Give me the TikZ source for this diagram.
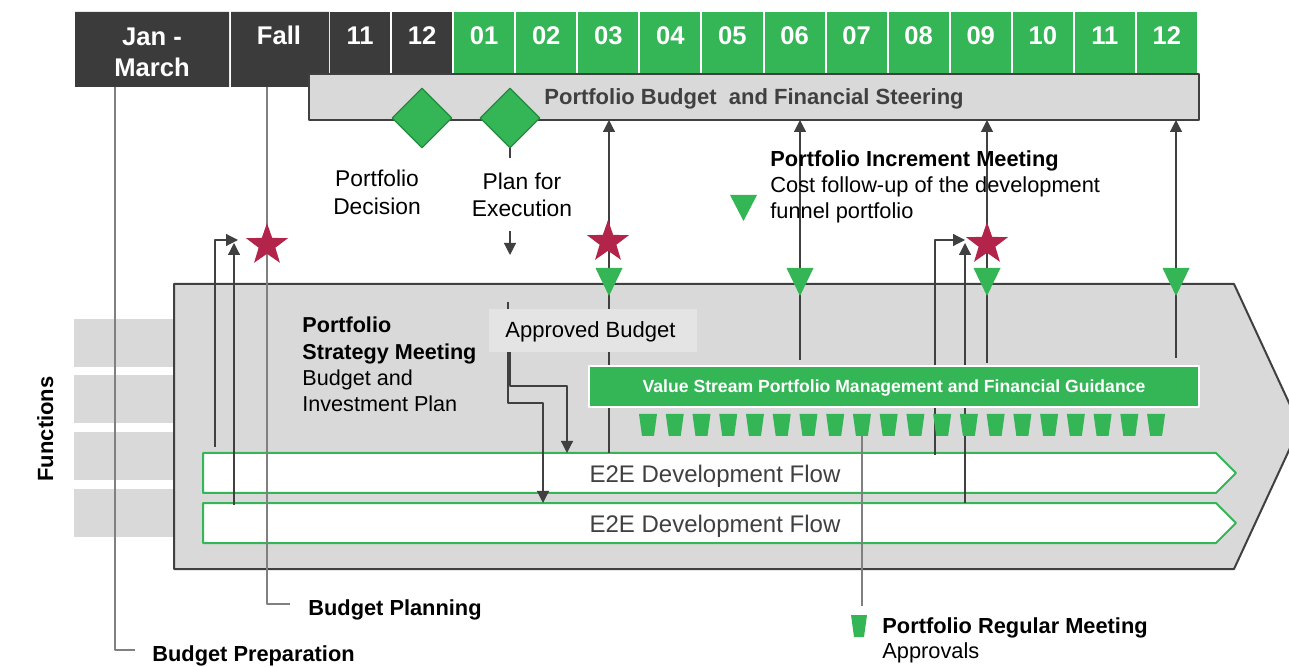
\documentclass[tikz,border=0pt]{standalone}
\usepackage{fontspec}
\setmainfont{Liberation Sans}
\usetikzlibrary{shapes.geometric,arrows.meta}
\definecolor{pgreen}{HTML}{34B556}
\definecolor{pdark}{HTML}{3B3B3B}
\definecolor{pgray}{HTML}{D9D9D9}
\definecolor{plight}{HTML}{E4E4E4}
\definecolor{pline}{HTML}{404040}
\definecolor{pthin}{HTML}{808080}
\definecolor{pstar}{HTML}{B3244A}
\begin{document}
\begin{tikzpicture}[x=0.5pt,y=-0.5pt,>={Triangle[length=6pt,width=6pt]},line join=round,
	hdr/.style={text=white,font=\fontsize{12.8}{15.5}\selectfont\bfseries,anchor=base,align=center,inner sep=0},
	txt/.style={font=\fontsize{11}{13.2}\selectfont,anchor=base west,align=left,inner sep=0},
	gate/.style={diamond,fill=pgreen,draw=pgreen!75!black,line width=.6pt,minimum size=30pt,inner sep=0},
	milestone/.style={star,star points=5,star point ratio=2.5,fill=pstar,minimum size=22pt,inner sep=0},
	feed/.style={pline,line width=.6pt,->},
	lead/.style={pthin,line width=.6pt}]
	\useasboundingbox (0,0) rectangle (1289,667);
	% header
	\fill[pdark] (75,12) rectangle (229,87) (231,12) rectangle (329,87);
	\foreach \m [count=\i from 0] in {11,12,01,02,03,04,05,06,07,08,09,10,11,12}{
		\ifnum\i<2 \def\c{pdark}\else\def\c{pgreen}\fi
		\fill[\c] ({329+62.07*\i+1},12) rectangle ({329+62.07*(\i+1)-1},74);
		\node[hdr] at ({329+62.07*(\i+.5)},45) {\m};
	}
	\node[hdr] (jan) at (152,77) {Jan -\\March};
	\node[hdr] (fall) at (279,45) {Fall};
	% steering bar
	\draw[pline,fill=pgray,line width=1pt] (309,74) rectangle (1199,120);
	\node[anchor=base,inner sep=0,text=pline,font=\fontsize{11}{13}\selectfont\bfseries] (steer) at (754,105) {Portfolio Budget\ \ and Financial Steering};
	\node[gate] (dec) at (422,118) {};
	\node[gate] (plan) at (510,118) {};
	% functions
	\foreach \y in {319,375,432,489}
		\fill[pgray] (74,\y) rectangle (174,\y+48);
	\node[rotate=90,anchor=base,inner sep=0,font=\fontsize{11}{13}\selectfont\bfseries] (fun) at (53,429) {Functions};
	% value stream arrow
	\draw[pline,fill=pgray,line width=1pt] (174,284) -- (1234,284) -- (1300,426.5) -- (1234,569) -- (174,569) -- cycle;
	\foreach \y in {453,503}
		\draw[pgreen,fill=white,line width=1pt] (203,\y) -- (1216,\y) -- (1236,\y+20) -- (1216,\y+40) -- (203,\y+40) -- cycle;
	\node[anchor=base,inner sep=0,text=pline,font=\fontsize{12}{14}\selectfont] (flow1) at (715,482) {E2E Development Flow};
	\node[anchor=base,inner sep=0,text=pline,font=\fontsize{12}{14}\selectfont] (flow2) at (715,532) {E2E Development Flow};
	\path
	(115,87) coordinate (J0)
	(135,650) coordinate (J1)
	(267,87) coordinate (F0)
	(290,604) coordinate (F1)
	(861.9,436) coordinate (R0)
	(861.9,606) coordinate (R1)
	(609,453) coordinate (A0)
	(609,120) coordinate (A1)
	(800,360) coordinate (B0)
	(800,120) coordinate (B1)
	(987,363) coordinate (C0)
	(987,120) coordinate (C1)
	(1176,358) coordinate (D0)
	(1176,120) coordinate (D1)
	(215,447) coordinate (P0)
	(238,240) coordinate (P1)
	(234,505) coordinate (Q0)
	(234,243) coordinate (Q1)
	(935,455) coordinate (U0)
	(965,240) coordinate (U1)
	(965,503) coordinate (V0)
	(965,243) coordinate (V1)
	(510,148) coordinate (E0)
	(510,158) coordinate (E1)
	(510,231) coordinate (E2)
	(510,255) coordinate (E3)
	(508,302) coordinate (G0)
	(508,310) coordinate (G1)
	(508,352) coordinate (G2)
	(508,403) coordinate (G3)
	(543,503) coordinate (G4)
	(510,352) coordinate (H2)
	(510,386) coordinate (H3)
	(567,453) coordinate (H4)
	;
	\draw[lead] (J0) |- (J1);
	\draw[lead] (F0) |- (F1);
	\draw[lead] (R0) -- (R1);
	\draw[feed] (A0) -- (A1);
	\draw[feed] (B0) -- (B1);
	\draw[feed] (C0) -- (C1);
	\draw[feed] (D0) -- (D1);
	\draw[feed] (P0) |- (P1);
	\draw[feed] (Q0) -- (Q1);
	\draw[feed] (U0) |- (U1);
	\draw[feed] (V0) -- (V1);
	\draw[pline,line width=.6pt] (E0) -- (E1) (G0) -- (G1);
	\draw[feed] (E2) -- (E3);
	\draw[feed] (G2) -- (G3) -| (G4);
	\draw[feed] (H2) -- (H3) -| (H4);
	% boxes over the lines
	\fill[plight] (489,309) rectangle (697,352);
	\node[txt] (appr) at (505,338) {Approved Budget};
	\draw[white,fill=pgreen,line width=1pt] (589,366) rectangle (1199,407);
	\node[anchor=base,inner sep=0,text=white,font=\fontsize{8.8}{10}\selectfont\bfseries] (vsm) at (894,393) {Value Stream Portfolio Management and Financial Guidance};
	\foreach \k in {0,...,19}
		\fill[pgreen] ({648+26.74*\k-9},414) -- ++(18,0) -- ++(-3,22) -- ++(-12,0) -- cycle;
	% increment triangles
	\foreach \x in {609,800,987,1176}
		\fill[pgreen] (\x-13.5,268) -- (\x+13.5,268) -- (\x,296) -- cycle;
	\node[milestone] (s1) at (267,245) {};
	\node[milestone] (s2) at (608,242) {};
	\node[milestone] (s3) at (987,244) {};
	% labels
	\node[txt,anchor=base,align=center,font=\fontsize{11.4}{14}\selectfont] (pdec) at (377,215) {Portfolio\\Decision};
	\node[txt,anchor=base,align=center,font=\fontsize{11.4}{13.5}\selectfont] (pexe) at (522,217) {Plan for\\Execution};
	\fill[pgreen] (730,195) -- (757,195) -- (743.5,221) -- cycle;
	\node[txt,font=\fontsize{10.9}{13}\selectfont] (incr) at (770,219) {\textbf{Portfolio Increment Meeting}\\Cost follow-up of the development\\funnel portfolio};
	\node[txt,font=\fontsize{10.8}{13.2}\selectfont] (strat) at (302,412) {\textbf{Portfolio}\\\textbf{Strategy Meeting}\\Budget and\\Investment Plan};
	\node[txt,font=\fontsize{10.9}{13}\selectfont\bfseries] (bplan) at (308,615) {Budget Planning};
	\node[txt,font=\fontsize{10.9}{13}\selectfont\bfseries] (bprep) at (152,661) {Budget Preparation};
	\fill[pgreen] (851,615) -- (867,615) -- (864,637) -- (854,637) -- cycle;
	\node[txt,font=\fontsize{10.9}{12.5}\selectfont] (reg) at (882,658) {\textbf{Portfolio Regular Meeting}\\Approvals};
\end{tikzpicture}
\end{document}
